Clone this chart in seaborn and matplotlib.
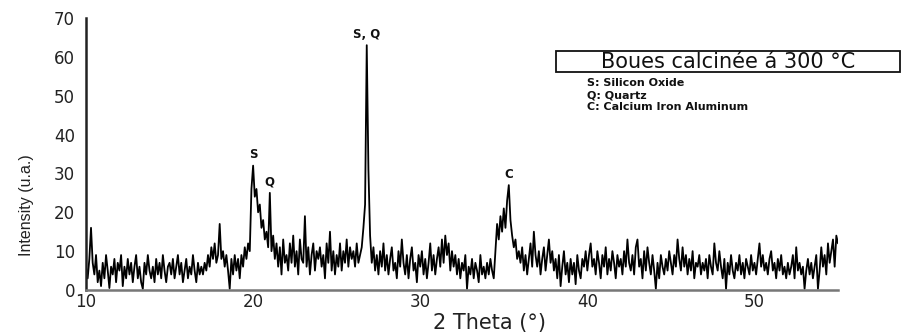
import numpy as np
import pandas as pd
import matplotlib
matplotlib.use("Agg")
import matplotlib.pyplot as plt
from matplotlib.patches import Rectangle
import seaborn as sns

# ---- data (2-theta from 10.0 to 55.0, step 0.1) ----
theta_start = 10.0
theta_step = 0.1
seg_10_15 = [6, 3, 8, 16, 7, 4, 9, 2, 5, 1,
             7, 3, 9, 5, 0.5, 6, 4, 8, 2, 7,
             5, 9, 1, 6, 3, 8, 4, 7, 2, 6,
             9, 3, 6, 2, 0.3, 7, 4, 9, 5, 3,
             6, 2, 8, 4, 7, 3, 9, 5, 2, 6]
seg_15_20 = [7, 4, 8, 3, 6, 9, 4, 7, 2, 5,
             8, 3, 6, 4, 9, 5, 2, 7, 4, 6,
             4, 7, 5, 9, 6, 11, 8, 12, 7, 9,
             17, 8, 10, 6, 9, 5, 0.3, 8, 4, 9,
             5, 8, 3, 9, 6, 11, 8, 12, 10, 26]
seg_20_25 = [32, 24, 26, 20, 22, 16, 18, 13, 15, 11,
             25, 10, 14, 8, 12, 6, 11, 4, 13, 7,
             9, 5, 12, 7, 14, 6, 10, 4, 13, 8,
             7, 19, 6, 11, 4, 9, 12, 5, 10, 8,
             11, 6, 9, 3, 12, 7, 15, 5, 10, 4]
seg_25_30 = [9, 6, 12, 5, 10, 7, 13, 6, 11, 8,
             10, 6, 12, 7, 9, 11, 16, 22, 63, 31,
             14, 7, 11, 5, 9, 4, 10, 6, 12, 5,
             9, 4, 8, 11, 5, 7, 3, 10, 6, 13,
             7, 4, 9, 3, 8, 11, 5, 7, 2, 9]
seg_30_35 = [6, 10, 4, 8, 3, 7, 12, 5, 9, 4,
             8, 11, 6, 13, 7, 14, 9, 12, 5, 10,
             6, 9, 4, 8, 3, 7, 5, 9, 0.3, 6,
             4, 8, 3, 7, 5, 2, 9, 4, 6, 3,
             7, 4, 8, 5, 3, 10, 17, 13, 19, 15]
seg_35_40 = [21, 16, 23, 27, 18, 14, 11, 13, 8, 10,
             7, 11, 5, 9, 4, 8, 12, 6, 15, 9,
             6, 10, 4, 8, 11, 5, 9, 13, 7, 10,
             5, 8, 3, 9, 1, 6, 10, 4, 7, 2,
             8, 4, 7, 1.5, 9, 5, 3, 8, 6, 10]
seg_40_45 = [5, 9, 12, 6, 8, 4, 10, 7, 3, 9,
             6, 11, 4, 8, 5, 10, 7, 3, 9, 6,
             8, 4, 10, 6, 13, 7, 5, 9, 4, 11,
             13, 6, 8, 3, 10, 5, 11, 7, 4, 9,
             5, 0.3, 7, 3, 9, 6, 4, 8, 5, 10]
seg_45_50 = [7, 4, 9, 6, 13, 8, 5, 11, 6, 9,
             4, 8, 5, 10, 3, 7, 6, 9, 4, 7,
             5, 8, 3, 9, 6, 4, 12, 7, 5, 10,
             6, 3, 8, 0.3, 7, 4, 9, 5, 3, 7,
             5, 9, 4, 7, 3, 8, 6, 4, 9, 5]
seg_50_55 = [7, 4, 8, 12, 6, 9, 5, 7, 4, 8,
             10, 5, 7, 3, 8, 5, 9, 4, 6, 3,
             7, 4, 6, 9, 3, 11, 5, 7, 4, 6,
             0.3, 5, 8, 4, 7, 3, 6, 9, 0.3, 5,
             11, 6, 9, 4, 12, 7, 10, 13, 6, 14,
             12]

peak_labels = ["S", "Q", "S, Q", "C"]
peak_pos = [20.0, 21.0, 26.8, 35.3]
peak_height = [32, 25, 63, 27]

legend_lines = ["S: Silicon Oxide", "Q: Quartz", "C: Calcium Iron Aluminum"]
title_text = "Boues calcinée á 300 °C"
x_ticks = [10, 20, 30, 40, 50]
y_ticks = [0, 10, 20, 30, 40, 50, 60, 70]

intensity = np.array(seg_10_15 + seg_15_20 + seg_20_25 + seg_25_30 + seg_30_35
                     + seg_35_40 + seg_40_45 + seg_45_50 + seg_50_55, dtype=float)
two_theta = np.round(theta_start + theta_step * np.arange(len(intensity)), 2)
df = pd.DataFrame({"two_theta": two_theta, "intensity": intensity})

# ---- figure ----
sns.set_theme(style="white")
plt.rcParams["font.family"] = ["DejaVu Sans"]

W, H = 902, 334
fig = plt.figure(figsize=(W / 100, H / 100), dpi=100)
ax = fig.add_axes([86 / W, 44 / H, (838 - 86) / W, (290 - 18) / H])

sns.lineplot(data=df, x="two_theta", y="intensity", ax=ax, color="black",
             linewidth=1.3, estimator=None)

ax.set_xlim(10, 55)
ax.set_ylim(0, 70)
ax.set_xticks(x_ticks)
ax.set_yticks(y_ticks)
ax.tick_params(axis="both", length=0, labelsize=12, colors="#222222")
ax.tick_params(axis="y", pad=8)
ax.tick_params(axis="x", pad=2)

for s in ["top", "right"]:
    ax.spines[s].set_visible(False)
ax.spines["left"].set_color("#222222")
ax.spines["left"].set_linewidth(1.8)
ax.spines["bottom"].set_color("#777777")
ax.spines["bottom"].set_linewidth(1.8)

ax.set_xlabel("2 Theta (°)", fontsize=15, color="#222222")
ax.xaxis.set_label_coords((489 - 86) / 752, (290 - 323) / 272)
ax.xaxis.label.set_va("center")
ax.set_ylabel("Intensity (u.a.)", fontsize=11.5, color="#222222",
              family=["Liberation Sans Narrow", "Liberation Sans"])
ax.yaxis.set_label_coords((27 - 86) / 752, (290 - 205) / 272)
ax.yaxis.label.set_va("center")

for lab, px, ph in zip(peak_labels, peak_pos, peak_height):
    ax.annotate(lab, xy=(px, ph), xytext=(0, 3), textcoords="offset points",
                ha="center", va="bottom", fontsize=8.5, fontweight="bold",
                color="#111111")

# title box
fig.patches.append(Rectangle((556 / W, 1 - 72 / H), (900 - 556) / W, 21 / H,
                             transform=fig.transFigure, facecolor="white",
                             edgecolor="#111111", linewidth=1.3))
fig.text((556 + 900) / 2 / W, 1 - 62.5 / H, title_text, fontsize=15,
         ha="center", va="center", color="#111111")

for i, line in enumerate(legend_lines):
    fig.text(587 / W, 1 - (83 + 12 * i) / H, line, fontsize=8,
             fontweight="bold", ha="left", va="center", color="#111111")

fig.savefig("out.png", dpi=100)
